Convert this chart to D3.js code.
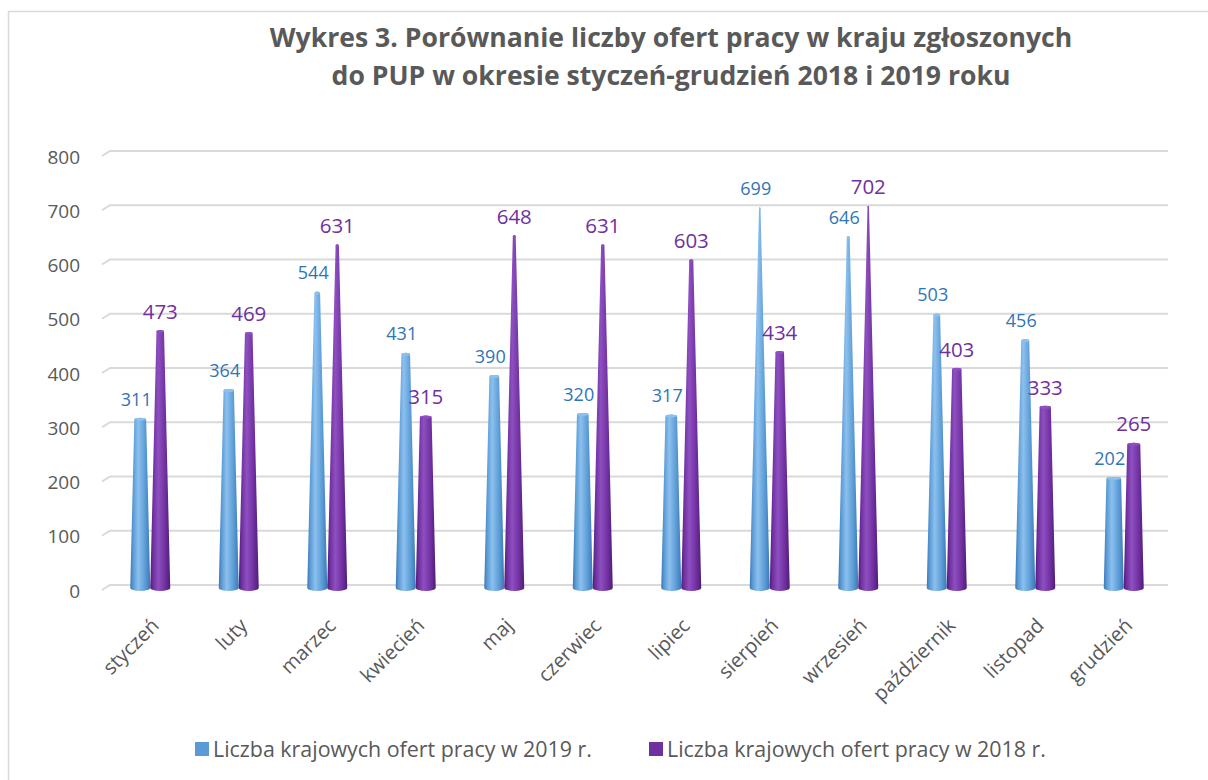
<!DOCTYPE html>
<html>
<head>
<meta charset="utf-8">
<script src="https://cdn.jsdelivr.net/npm/d3@7"></script>
<style>
  body { margin: 0; background: #fff; }
  svg { display: block; }
</style>
</head>
<body>
<svg id="chart" width="1208" height="780"></svg>
<script>
var months = ["styczeń", "luty", "marzec", "kwiecień", "maj", "czerwiec", "lipiec",
    "sierpień", "wrzesień", "październik", "listopad", "grudzień"]
var values2019 = [311, 364, 544, 431, 390, 320, 317, 699, 646, 503, 456, 202]
var values2018 = [473, 469, 631, 315, 648, 631, 603, 434, 702, 403, 333, 265]
var yTicks = [0, 100, 200, 300, 400, 500, 600, 700, 800]
var seriesNames = ["Liczba krajowych ofert pracy w 2019 r.", "Liczba krajowych ofert pracy w 2018 r."]
var titleLines = ["Wykres 3. Porównanie liczby ofert pracy w kraju zgłoszonych",
    "do PUP w okresie styczeń-grudzień 2018 i 2019 roku"]

var svg = d3.select("#chart")
var font = "Open Sans, sans-serif"
var textColor = "#595959"

var series = [
    {name: seriesNames[0], values: values2019, fill: "#5b9bd5", light: "#8cc0ee", dark: "#3a78b5", label: "#2e75b6", size: 18},
    {name: seriesNames[1], values: values2018, fill: "#7030a0", light: "#8e4fc0", dark: "#4e1d75", label: "#7030a0", size: 20.5}
]

// chart border
svg.append("rect")
    .attr("x", 8.5).attr("y", 11.5)
    .attr("width", 1400).attr("height", 1000)
    .attr("fill", "none").attr("stroke", "#d9d9d9").attr("stroke-width", 1.5)

// title
svg.append("g").selectAll("text")
    .data(titleLines)
    .enter().append("text")
    .attr("x", 671)
    .attr("y", function(d, i) { return 47 + i * 38 })
    .attr("text-anchor", "middle")
    .attr("font-family", font)
    .attr("font-weight", "bold")
    .attr("font-size", 26.6)
    .attr("fill", textColor)
    .text(function(d) { return d })

var x = d3.scaleBand().domain(months).range([106, 1168])
var y = d3.scaleLinear().domain([0, 800]).range([585, 151])
var depthX = 8, depthY = 5
var baseW = 20
var topW = d3.scaleLinear().domain([0, 720]).range([baseW, 1]).clamp(true)

// gridlines with small 3D wall step
var grid = svg.append("g").attr("class", "grid")
grid.selectAll("polyline")
    .data(yTicks)
    .enter().append("polyline")
    .attr("points", function(d) {
        var yy = y(d)
        return [[110 - depthX, yy + depthY], [110, yy], [1168, yy]].join(" ")
    })
    .attr("fill", "none")
    .attr("stroke", "#d9d9d9")
    .attr("stroke-width", 2)

grid.selectAll("text")
    .data(yTicks)
    .enter().append("text")
    .attr("x", 80)
    .attr("y", function(d) { return y(d) + 6 })
    .attr("dy", "0.35em")
    .attr("text-anchor", "end")
    .attr("font-family", font)
    .attr("font-size", 19)
    .attr("fill", textColor)
    .text(function(d) { return d })

// gradients for cone shading
var defs = svg.append("defs")
series.forEach(function(s, i) {
    var g = defs.append("linearGradient")
        .attr("id", "cone" + i)
        .attr("x1", 0).attr("x2", 1).attr("y1", 0).attr("y2", 0)
    g.append("stop").attr("offset", "0%").attr("stop-color", s.dark)
    g.append("stop").attr("offset", "15%").attr("stop-color", s.fill)
    g.append("stop").attr("offset", "40%").attr("stop-color", s.light)
    g.append("stop").attr("offset", "75%").attr("stop-color", s.fill)
    g.append("stop").attr("offset", "100%").attr("stop-color", s.dark)
})

function conePath(cx, v) {
    var yb = y(0) + 3, yt = y(v) + 3
    var rb = baseW / 2, rt = topW(v) / 2
    return "M" + (cx - rt) + "," + yt +
        "L" + (cx - rb) + "," + yb +
        "A" + rb + ",3 0 0,0 " + (cx + rb) + "," + yb +
        "L" + (cx + rt) + "," + yt +
        "A" + rt + ",1.5 0 0,0 " + (cx - rt) + "," + yt + "Z"
}

var offsets = [-10, 10]
series.forEach(function(s, i) {
    var g = svg.append("g").attr("class", "series" + i)
    g.selectAll("path")
        .data(s.values)
        .enter().append("path")
        .attr("d", function(d, j) { return conePath(x(months[j]) + x.bandwidth() / 2 + offsets[i], d) })
        .attr("fill", "url(#cone" + i + ")")
    g.selectAll("ellipse")
        .data(s.values)
        .enter().append("ellipse")
        .attr("cx", function(d, j) { return x(months[j]) + x.bandwidth() / 2 + offsets[i] })
        .attr("cy", function(d) { return y(d) + 3 })
        .attr("rx", function(d) { return topW(d) / 2 })
        .attr("ry", 1.5)
        .attr("fill", s.light)
})

// value labels drawn after all cones
series.forEach(function(s, i) {
    svg.append("g").selectAll("text")
        .data(s.values)
        .enter().append("text")
        .attr("x", function(d, j) { return x(months[j]) + x.bandwidth() / 2 + offsets[i] - (i === 0 ? 4 : 0) })
        .attr("y", function(d) { return y(d) - 17 })
        .attr("dy", "0.35em")
        .attr("text-anchor", "middle")
        .attr("font-family", font)
        .attr("font-size", s.size)
        .attr("fill", s.label)
        .text(function(d) { return d })
})

// category labels
svg.append("g").selectAll("text")
    .data(months)
    .enter().append("text")
    .attr("transform", function(d) { return "translate(" + (x(d) + x.bandwidth() / 2) + ",617) rotate(-45)" })
    .attr("dy", "0.7em")
    .attr("text-anchor", "end")
    .attr("font-family", font)
    .attr("font-size", 20)
    .attr("fill", textColor)
    .text(function(d) { return d })

// legend
var legend = svg.append("g").selectAll("g")
    .data(series)
    .enter().append("g")
    .attr("transform", function(d, i) { return "translate(" + (195 + i * 454) + ",749)" })
legend.append("rect")
    .attr("x", 0).attr("y", -7)
    .attr("width", 14).attr("height", 14)
    .attr("fill", function(d) { return d.fill })
legend.append("text")
    .attr("x", 18)
    .attr("dy", "0.35em")
    .attr("font-family", font)
    .attr("font-size", 21.4)
    .attr("fill", textColor)
    .text(function(d) { return d.name })
</script>
</body>
</html>
